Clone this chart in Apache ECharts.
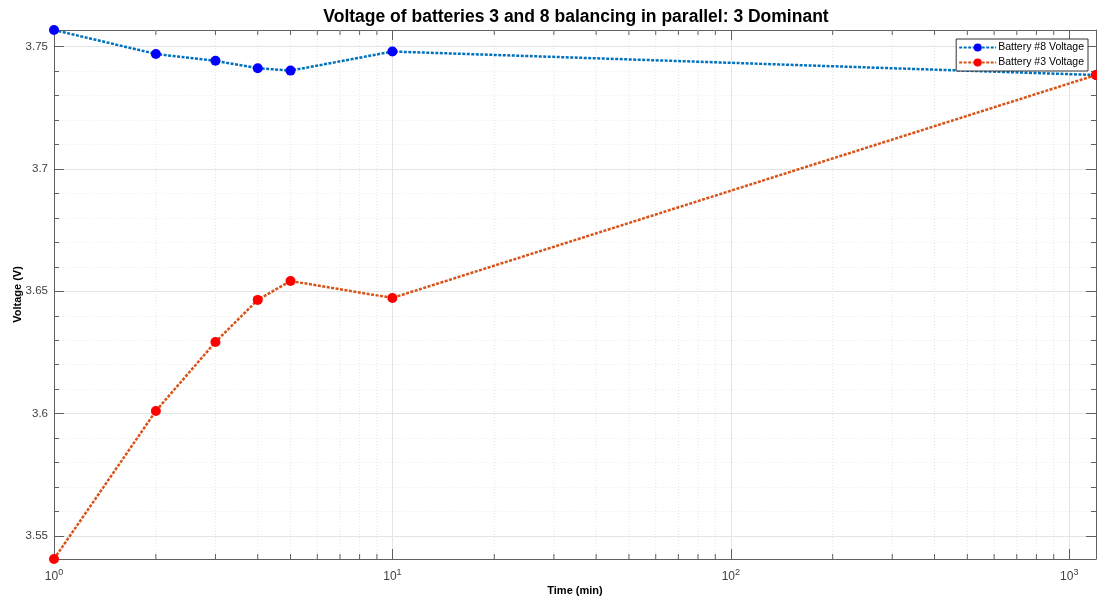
<!DOCTYPE html>
<html>
<head>
<meta charset="utf-8">
<script src="https://cdn.jsdelivr.net/npm/echarts@6/dist/echarts.min.js"></script>
<style>
html,body{margin:0;padding:0;background:#fff;}
#chart{width:1097px;height:598px;}
</style>
</head>
<body>
<div id="chart"></div>
<script>
// ---- data ----
var times = [1, 2, 3, 4, 5, 10, 1200];
var battery8 = [3.7568, 3.7470, 3.7442, 3.7412, 3.7402, 3.7480, 3.7384];
var battery3 = [3.5406, 3.6011, 3.6293, 3.6465, 3.6542, 3.6473, 3.7384];
var xMinorTicks = [2,3,4,5,6,7,8,9,20,30,40,50,60,70,80,90,200,300,400,500,600,700,800,900];
var xRange = [1, 1200];
var yRange = [3.5406, 3.7568];
var seriesNames = ['Battery #8 Voltage', 'Battery #3 Voltage'];

var FONT = '"Liberation Sans", Arial, Helvetica, sans-serif';
var AXIS_COLOR = '#606060';
var LABEL_COLOR = '#404040';

function pairs(xs, ys) { return xs.map(function (x, i) { return [x, ys[i]]; }); }

var chart = echarts.init(document.getElementById('chart'), null, {renderer: 'canvas'});

var option = {
  backgroundColor: '#fff',
  animation: false,
  title: {
    text: 'Voltage of batteries 3 and 8 balancing in parallel: 3 Dominant',
    left: 571, top: 3, textAlign: 'center',
    textStyle: {fontFamily: FONT, fontSize: 17.5, fontWeight: 'bold', color: '#000'}
  },
  legend: {
    data: seriesNames,
    orient: 'vertical',
    right: 9, top: 39,
    backgroundColor: '#fff',
    borderColor: '#333', borderWidth: 1, borderRadius: 0,
    padding: [3, 4, 3, 2],
    itemGap: 4,
    itemWidth: 37, itemHeight: 10,
    textStyle: {fontFamily: FONT, fontSize: 10.5, color: '#000', padding: [0, 0, 0, -3]}
  },
  grid: {left: 54, right: 1, top: 30, bottom: 39, containLabel: false, outerBoundsMode: 'none'},
  xAxis: [{
    type: 'log', logBase: 10, min: xRange[0], max: xRange[1],
    name: 'Time (min)', nameLocation: 'middle', nameGap: 26, nameMoveOverlap: false,
    nameTextStyle: {fontFamily: FONT, fontSize: 11, fontWeight: 'bold', color: '#000'},
    axisLine: {show: true, lineStyle: {color: AXIS_COLOR, width: 1}},
    axisTick: {show: true, inside: true, length: 10, lineStyle: {color: AXIS_COLOR}},
    axisLabel: {
      show: true, margin: 9, showMaxLabel: false,
      fontFamily: FONT, fontSize: 12, color: LABEL_COLOR,
      formatter: function (v) { return '10{sup|' + Math.round(Math.log10(v)) + '}'; },
      rich: {sup: {fontFamily: FONT, fontSize: 9, color: LABEL_COLOR, verticalAlign: 'top', padding: [0, 0, 8, 0]}}
    },
    splitLine: {show: true, lineStyle: {color: '#e4e4e4', width: 1}}
  }, {
    type: 'log', logBase: 10, min: xRange[0], max: xRange[1], position: 'top',
    axisLine: {show: true, lineStyle: {color: AXIS_COLOR, width: 1}},
    axisTick: {show: true, inside: true, length: 10, lineStyle: {color: AXIS_COLOR}},
    axisLabel: {show: false},
    splitLine: {show: false}
  }],
  yAxis: [{
    type: 'value', min: yRange[0], max: yRange[1], splitNumber: 5,
    name: 'Voltage (V)', nameLocation: 'middle', nameGap: 31, nameMoveOverlap: false,
    nameTextStyle: {fontFamily: FONT, fontSize: 11, fontWeight: 'bold', color: '#000'},
    axisLine: {show: true, lineStyle: {color: AXIS_COLOR, width: 1}},
    axisTick: {show: true, inside: true, length: 10, lineStyle: {color: AXIS_COLOR}},
    minorTick: {show: true, splitNumber: 5, length: 5, lineStyle: {color: AXIS_COLOR}},
    axisLabel: {show: true, margin: 6, showMinLabel: false, showMaxLabel: false,
      fontFamily: FONT, fontSize: 11.5, color: LABEL_COLOR},
    splitLine: {show: true, lineStyle: {color: '#e4e4e4', width: 1}},
    minorSplitLine: {show: true, lineStyle: {color: '#ececec', width: 1, type: [1, 2]}}
  }, {
    type: 'value', min: yRange[0], max: yRange[1], splitNumber: 5, position: 'right',
    axisLine: {show: true, lineStyle: {color: AXIS_COLOR, width: 1}},
    axisTick: {show: true, inside: true, length: 10, lineStyle: {color: AXIS_COLOR}},
    minorTick: {show: true, splitNumber: 5, length: 5, lineStyle: {color: AXIS_COLOR}},
    axisLabel: {show: false},
    splitLine: {show: false}
  }],
  series: [{
    type: 'custom',
    silent: true,
    xAxisIndex: 0, yAxisIndex: 0,
    z: 1,
    data: xMinorTicks.map(function (v) { return [v, yRange[0]]; }),
    encode: {x: 0, y: 1},
    renderItem: function (params, api) {
      var x = api.coord([api.value(0), yRange[0]])[0];
      var cs = params.coordSys;
      var top = cs.y, bottom = cs.y + cs.height;
      return {
        type: 'group',
        children: [{
          type: 'line',
          shape: {x1: x, y1: top, x2: x, y2: bottom},
          style: {stroke: '#e6e6e6', lineWidth: 1, lineDash: [1, 2]},
          z2: 0
        }, {
          type: 'line',
          shape: {x1: x, y1: bottom, x2: x, y2: bottom - 5},
          style: {stroke: AXIS_COLOR, lineWidth: 1},
          z2: 1
        }, {
          type: 'line',
          shape: {x1: x, y1: top, x2: x, y2: top + 5},
          style: {stroke: AXIS_COLOR, lineWidth: 1},
          z2: 1
        }]
      };
    }
  }, {
    name: seriesNames[0],
    type: 'line',
    xAxisIndex: 0, yAxisIndex: 0,
    data: pairs(times, battery8),
    symbol: 'circle', symbolSize: 10,
    clip: false,
    itemStyle: {color: '#0000ff'},
    lineStyle: {color: '#0072bd', width: 2.5, type: [3, 1.5]},
    z: 3
  }, {
    name: seriesNames[1],
    type: 'line',
    xAxisIndex: 0, yAxisIndex: 0,
    data: pairs(times, battery3),
    symbol: 'circle', symbolSize: 10,
    clip: false,
    itemStyle: {color: '#ff0000'},
    lineStyle: {color: '#d95319', width: 2.5, type: [3, 1.5]},
    z: 4
  }]
};
chart.setOption(option);
</script>
</body>
</html>
